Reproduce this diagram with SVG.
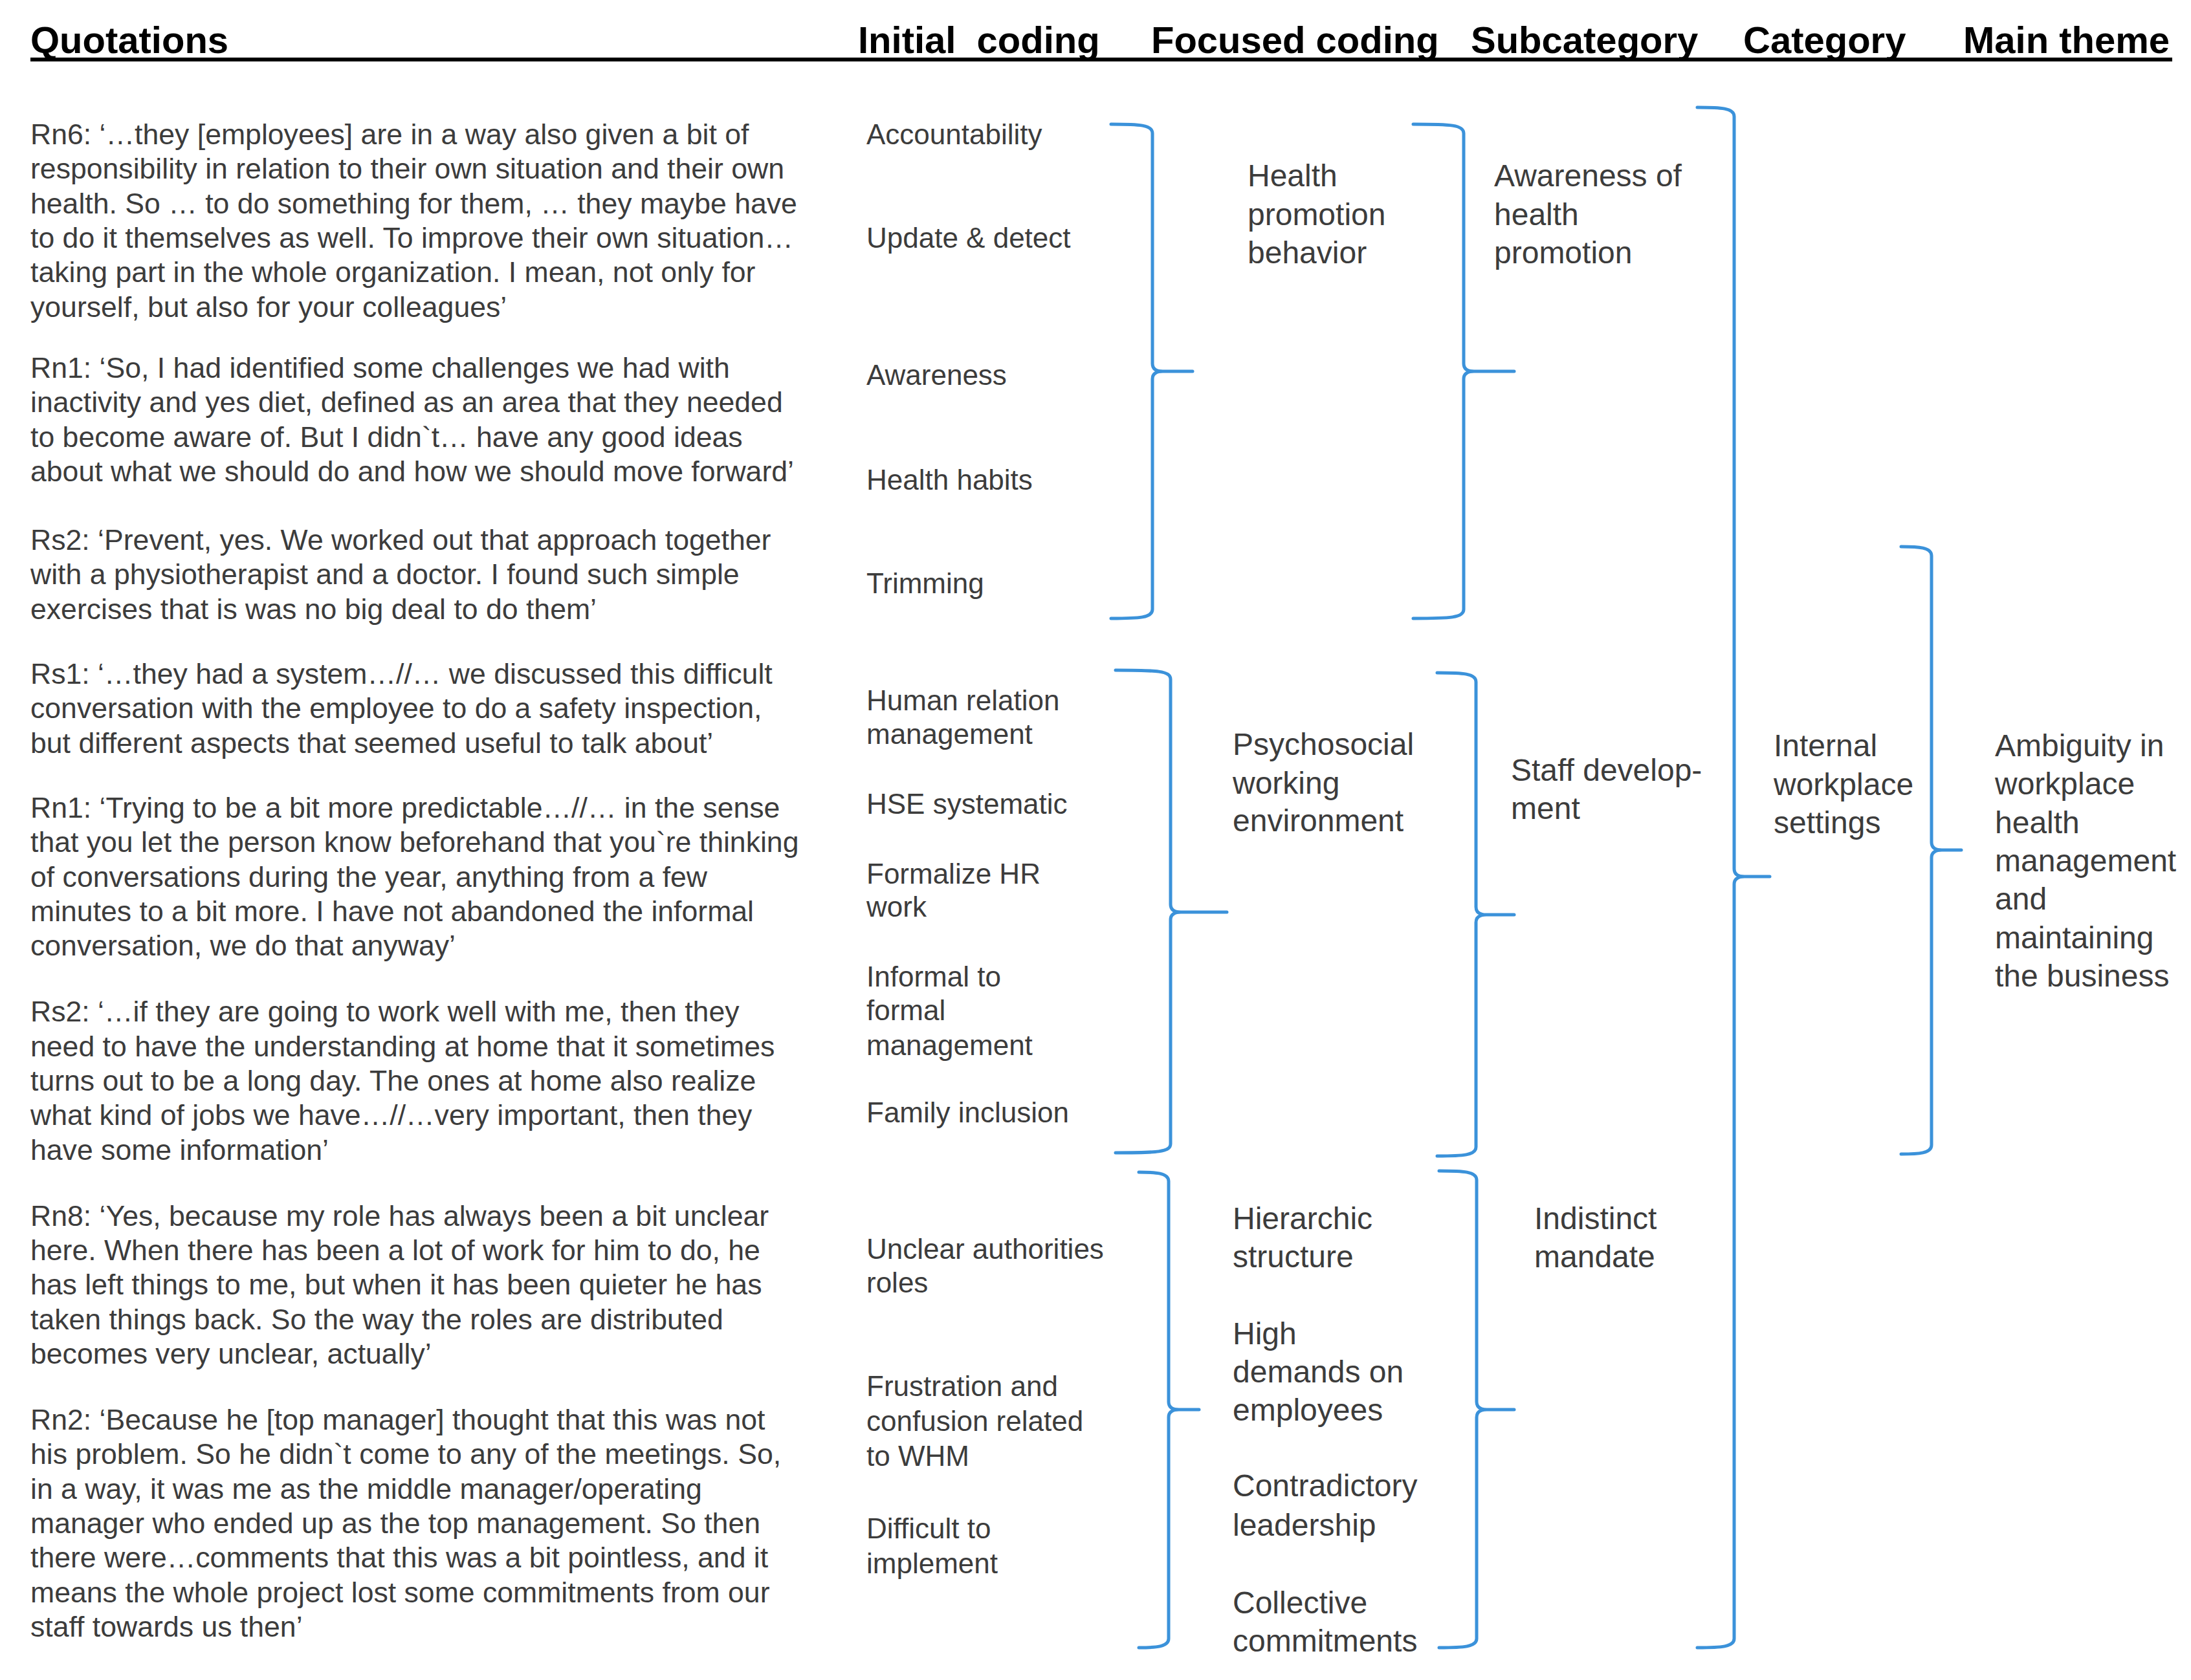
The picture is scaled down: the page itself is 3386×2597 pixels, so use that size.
<svg xmlns="http://www.w3.org/2000/svg" width="3386" height="2597" viewBox="0 0 3386 2597">
<style>
.bg{fill:#ffffff}
.h{font-family:"Liberation Sans",Arial,sans-serif;font-weight:bold;font-size:58px;fill:#000}
.q{font-family:"Liberation Sans",Arial,sans-serif;font-size:44.6px;fill:#3c3c3c}
.ic{font-family:"Liberation Sans",Arial,sans-serif;font-size:44px;fill:#3c3c3c}
.fc{font-family:"Liberation Sans",Arial,sans-serif;font-size:48px;fill:#3c3c3c}
.br{fill:none;stroke:#3b92da;stroke-width:5;stroke-linecap:round;stroke-linejoin:round}
</style>
<rect class="bg" x="0" y="0" width="3386" height="2597"/>
<g id="header">
<text class="h" x="47" y="82">Quotations</text>
<text class="h" x="1326" y="82" word-spacing="16">Initial coding</text>
<text class="h" x="1779" y="82">Focused coding</text>
<text class="h" x="2273" y="82">Subcategory</text>
<text class="h" x="2694" y="82">Category</text>
<text class="h" x="3034" y="82">Main theme</text>
<rect x="47" y="89" width="3310" height="6" fill="#000"/>
</g>
<g id="quotes">
<g id="q-rn6">
<text class="q" x="47" y="223">Rn6: ‘…they [employees] are in a way also given a bit of</text>
<text class="q" x="47" y="276">responsibility in relation to their own situation and their own</text>
<text class="q" x="47" y="330">health. So … to do something for them, … they maybe have</text>
<text class="q" x="47" y="383">to do it themselves as well. To improve their own situation…</text>
<text class="q" x="47" y="436">taking part in the whole organization. I mean, not only for</text>
<text class="q" x="47" y="490">yourself, but also for your colleagues’</text>
</g>
<g id="q-rn1a">
<text class="q" x="47" y="584">Rn1: ‘So, I had identified some challenges we had with</text>
<text class="q" x="47" y="637">inactivity and yes diet, defined as an area that they needed</text>
<text class="q" x="47" y="691">to become aware of. But I didn`t… have any good ideas</text>
<text class="q" x="47" y="744">about what we should do and how we should move forward’</text>
</g>
<g id="q-rs2a">
<text class="q" x="47" y="850">Rs2: ‘Prevent, yes. We worked out that approach together</text>
<text class="q" x="47" y="903">with a physiotherapist and a doctor. I found such simple</text>
<text class="q" x="47" y="957">exercises that is was no big deal to do them’</text>
</g>
<g id="q-rs1">
<text class="q" x="47" y="1057">Rs1: ‘…they had a system…//… we discussed this difficult</text>
<text class="q" x="47" y="1110">conversation with the employee to do a safety inspection,</text>
<text class="q" x="47" y="1164">but different aspects that seemed useful to talk about’</text>
</g>
<g id="q-rn1b">
<text class="q" x="47" y="1264">Rn1: ‘Trying to be a bit more predictable…//… in the sense</text>
<text class="q" x="47" y="1317">that you let the person know beforehand that you`re thinking</text>
<text class="q" x="47" y="1371">of conversations during the year, anything from a few</text>
<text class="q" x="47" y="1424">minutes to a bit more. I have not abandoned the informal</text>
<text class="q" x="47" y="1477">conversation, we do that anyway’</text>
</g>
<g id="q-rs2b">
<text class="q" x="47" y="1579">Rs2: ‘…if they are going to work well with me, then they</text>
<text class="q" x="47" y="1633">need to have the understanding at home that it sometimes</text>
<text class="q" x="47" y="1686">turns out to be a long day. The ones at home also realize</text>
<text class="q" x="47" y="1739">what kind of jobs we have…//…very important, then they</text>
<text class="q" x="47" y="1793">have some information’</text>
</g>
<g id="q-rn8">
<text class="q" x="47" y="1895">Rn8: ‘Yes, because my role has always been a bit unclear</text>
<text class="q" x="47" y="1948">here. When there has been a lot of work for him to do, he</text>
<text class="q" x="47" y="2001">has left things to me, but when it has been quieter he has</text>
<text class="q" x="47" y="2055">taken things back. So the way the roles are distributed</text>
<text class="q" x="47" y="2108">becomes very unclear, actually’</text>
</g>
<g id="q-rn2">
<text class="q" x="47" y="2210">Rn2: ‘Because he [top manager] thought that this was not</text>
<text class="q" x="47" y="2263">his problem. So he didn`t come to any of the meetings. So,</text>
<text class="q" x="47" y="2317">in a way, it was me as the middle manager/operating</text>
<text class="q" x="47" y="2370">manager who ended up as the top management. So then</text>
<text class="q" x="47" y="2423">there were…comments that this was a bit pointless, and it</text>
<text class="q" x="47" y="2477">means the whole project lost some commitments from our</text>
<text class="q" x="47" y="2530">staff towards us then’</text>
</g>
</g>
<g id="initial-coding">
<g id="ic-accountability"><text class="ic" x="1339" y="223">Accountability</text></g>
<g id="ic-update"><text class="ic" x="1339" y="383">Update &amp; detect</text></g>
<g id="ic-awareness"><text class="ic" x="1339" y="595">Awareness</text></g>
<g id="ic-habits"><text class="ic" x="1339" y="757">Health habits</text></g>
<g id="ic-trimming"><text class="ic" x="1339" y="917">Trimming</text></g>
<g id="ic-human"><text class="ic" x="1339" y="1098">Human relation</text><text class="ic" x="1339" y="1150">management</text></g>
<g id="ic-hse"><text class="ic" x="1339" y="1258">HSE systematic</text></g>
<g id="ic-formalize"><text class="ic" x="1339" y="1366">Formalize HR</text><text class="ic" x="1339" y="1417">work</text></g>
<g id="ic-informal"><text class="ic" x="1339" y="1525">Informal to</text><text class="ic" x="1339" y="1577">formal</text><text class="ic" x="1339" y="1631">management</text></g>
<g id="ic-family"><text class="ic" x="1339" y="1735">Family inclusion</text></g>
<g id="ic-unclear"><text class="ic" x="1339" y="1946">Unclear authorities</text><text class="ic" x="1339" y="1998">roles</text></g>
<g id="ic-frustration"><text class="ic" x="1339" y="2158">Frustration and</text><text class="ic" x="1339" y="2212">confusion related</text><text class="ic" x="1339" y="2266">to WHM</text></g>
<g id="ic-difficult"><text class="ic" x="1339" y="2378">Difficult to</text><text class="ic" x="1339" y="2432">implement</text></g>
</g>
<g id="focused-coding">
<g id="fc-health"><text class="fc" x="1928" y="288">Health</text><text class="fc" x="1928" y="348">promotion</text><text class="fc" x="1928" y="407">behavior</text></g>
<g id="fc-psychosocial"><text class="fc" x="1905" y="1167">Psychosocial</text><text class="fc" x="1905" y="1227">working</text><text class="fc" x="1905" y="1285">environment</text></g>
<g id="fc-hierarchic"><text class="fc" x="1905" y="1900">Hierarchic</text><text class="fc" x="1905" y="1959">structure</text></g>
<g id="fc-high"><text class="fc" x="1905" y="2078">High</text><text class="fc" x="1905" y="2137">demands on</text><text class="fc" x="1905" y="2196">employees</text></g>
<g id="fc-contradictory"><text class="fc" x="1905" y="2313">Contradictory</text><text class="fc" x="1905" y="2374">leadership</text></g>
<g id="fc-collective"><text class="fc" x="1905" y="2494">Collective</text><text class="fc" x="1905" y="2553">commitments</text></g>
</g>
<g id="subcategory">
<g id="sc-awareness"><text class="fc" x="2309" y="288">Awareness of</text><text class="fc" x="2309" y="348">health</text><text class="fc" x="2309" y="407">promotion</text></g>
<g id="sc-staff"><text class="fc" x="2335" y="1207">Staff develop-</text><text class="fc" x="2335" y="1266">ment</text></g>
<g id="sc-indistinct"><text class="fc" x="2371" y="1900">Indistinct</text><text class="fc" x="2371" y="1959">mandate</text></g>
</g>
<g id="category">
<g id="cat-internal"><text class="fc" x="2741" y="1169">Internal</text><text class="fc" x="2741" y="1229">workplace</text><text class="fc" x="2741" y="1288">settings</text></g>
</g>
<g id="main-theme">
<g id="mt-ambiguity"><text class="fc" x="3083" y="1169">Ambiguity in</text><text class="fc" x="3083" y="1228">workplace</text><text class="fc" x="3083" y="1288">health</text><text class="fc" x="3083" y="1347">management</text><text class="fc" x="3083" y="1406">and</text><text class="fc" x="3083" y="1466">maintaining</text><text class="fc" x="3083" y="1525">the business</text></g>
</g>
<g id="connectors">
<path class="br" d="M1717 192 C1761 192 1781 193 1781 206 L1781 562 Q1781 574 1797 574 L1843 574 M1797 574 Q1781 574 1781 586 L1781 942 C1781 955 1761 956 1717 956"/>
<path class="br" d="M2184 192 C2242 192 2262 193 2262 206 L2262 562 Q2262 574 2278 574 L2340 574 M2278 574 Q2262 574 2262 586 L2262 942 C2262 955 2242 956 2184 956"/>
<path class="br" d="M2623 166 C2660 166 2680 167 2680 180 L2680 1343 Q2680 1355 2696 1355 L2735 1355 M2696 1355 Q2680 1355 2680 1367 L2680 2533 C2680 2546 2660 2547 2623 2547"/>
<path class="br" d="M2938 845 C2965 845 2985 846 2985 859 L2985 1302 Q2985 1314 3001 1314 L3031 1314 M3001 1314 Q2985 1314 2985 1326 L2985 1770 C2985 1783 2965 1784 2938 1784"/>
<path class="br" d="M1724 1036 C1789 1036 1809 1037 1809 1050 L1809 1398 Q1809 1410 1825 1410 L1896 1410 M1825 1410 Q1809 1410 1809 1422 L1809 1768 C1809 1781 1789 1782 1724 1782"/>
<path class="br" d="M2221 1040 C2261 1040 2281 1041 2281 1054 L2281 1402 Q2281 1414 2297 1414 L2340 1414 M2297 1414 Q2281 1414 2281 1426 L2281 1773 C2281 1786 2261 1787 2221 1787"/>
<path class="br" d="M1760 1812 C1786 1812 1806 1813 1806 1826 L1806 2167 Q1806 2179 1822 2179 L1853 2179 M1822 2179 Q1806 2179 1806 2191 L1806 2533 C1806 2546 1786 2547 1760 2547"/>
<path class="br" d="M2224 1810 C2262 1810 2282 1811 2282 1824 L2282 2167 Q2282 2179 2298 2179 L2340 2179 M2298 2179 Q2282 2179 2282 2191 L2282 2533 C2282 2546 2262 2547 2224 2547"/>
</g>
</svg>
